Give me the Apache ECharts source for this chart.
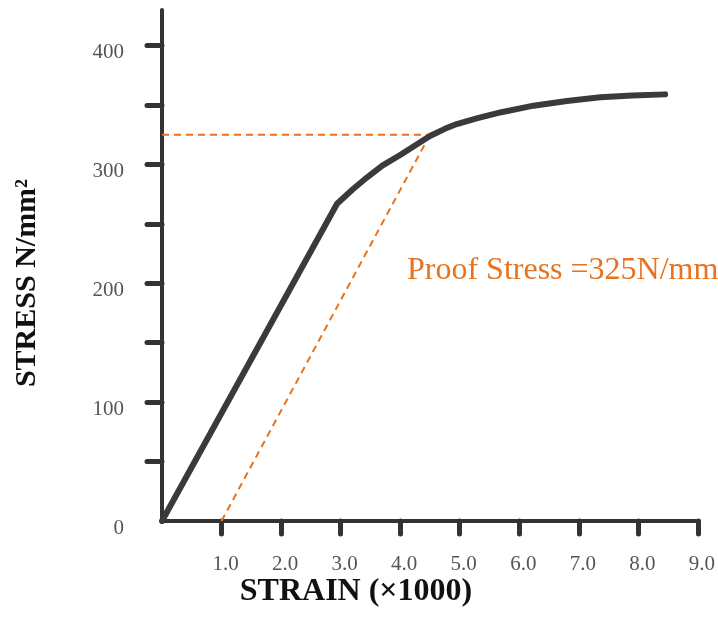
<!DOCTYPE html>
<html><head><meta charset="utf-8">
<script src="https://cdn.jsdelivr.net/npm/echarts@6/dist/echarts.min.js"></script>
<style>html,body{margin:0;padding:0;background:#fff}#c{width:718px;height:619px}</style>
</head><body><div id="c"></div>
<script>
// Stress-strain curve points: [strain (x1000), stress N/mm²]
const curveStrain = [0, 2.94, 3.2, 3.44, 3.7, 4.0, 4.25, 4.5, 4.75, 4.95, 5.3, 5.7, 6.24, 6.8, 7.36, 7.9, 8.45];
const curveStress = [0, 267, 279, 289, 299, 308, 316, 324, 330, 334, 339, 344, 349.5, 353.5, 356.5, 358, 359];
// Proof stress offset line and horizontal reading
const offsetStrain = [1.0, 4.5];
const offsetStress = [0, 325];
const proofStrain = [0, 4.5];
const proofStress = [325, 325];
const xTicks = [1, 2, 3, 4, 5, 6, 7, 8, 9];
const yTicks = [50, 100, 150, 200, 250, 300, 350, 400];
const yLabels = [0, 100, 200, 300, 400];
const annotation = 'Proof Stress =325N/mm';
const xTitle = 'STRAIN (×1000)';
const yTitle = 'STRESS N/mm²';

const zip = (a, b) => a.map((v, i) => [v, b[i]]);
const chart = echarts.init(document.getElementById('c'), null, {renderer: 'canvas'});
const serif = '"Liberation Serif", "DejaVu Serif", serif';
const orange = '#E8731E';
const dark = '#333333';
chart.setOption({
  animation: false,
  grid: {left: 162, right: 20, top: 10, bottom: 98, containLabel: false},
  xAxis: {
    type: 'value', min: 0, max: 9,
    axisLine: {show: true, lineStyle: {color: dark, width: 4}},
    axisTick: {show: true, inside: false, length: 13, customValues: xTicks, lineStyle: {color: dark, width: 5, cap: 'round'}},
    axisLabel: {customValues: xTicks, formatter: v => v.toFixed(1), fontFamily: serif, fontSize: 21, color: '#555', margin: 33, padding: [0, 0, 0, 8]},
    splitLine: {show: false}
  },
  yAxis: {
    type: 'value', min: 0, max: 430,
    axisLine: {show: true, lineStyle: {color: dark, width: 4}},
    axisTick: {show: true, inside: false, length: 15, customValues: yTicks, lineStyle: {color: dark, width: 5, cap: 'round'}},
    axisLabel: {customValues: yLabels, fontFamily: serif, fontSize: 21, color: '#555', margin: 38, verticalAlign: 'top', lineHeight: 14},
    splitLine: {show: false}
  },
  series: [
    {type: 'line', data: zip(proofStrain, proofStress), symbol: 'none', z: 3,
     lineStyle: {color: orange, width: 2, type: [7, 5]}},
    {type: 'line', data: zip(offsetStrain, offsetStress), symbol: 'none', z: 3,
     lineStyle: {color: orange, width: 2, type: [7, 5]}},
    {type: 'line', data: zip(curveStrain, curveStress), symbol: 'none', z: 4,
     lineStyle: {color: '#3a3a3e', width: 6, cap: 'round', join: 'round'}}
  ],
  graphic: [
    {type: 'text', x: 407, y: 271, style: {text: annotation, fill: orange, font: '32px ' + serif, verticalAlign: 'middle'}},
    {type: 'text', x: 356, y: 592, style: {text: xTitle, fill: '#111', font: 'bold 32px ' + serif, align: 'center', verticalAlign: 'middle'}},
    {type: 'text', x: 27, y: 283, rotation: Math.PI / 2, style: {text: yTitle, fill: '#111', font: 'bold 30px ' + serif, align: 'center', verticalAlign: 'middle'}}
  ]
});
</script></body></html>
